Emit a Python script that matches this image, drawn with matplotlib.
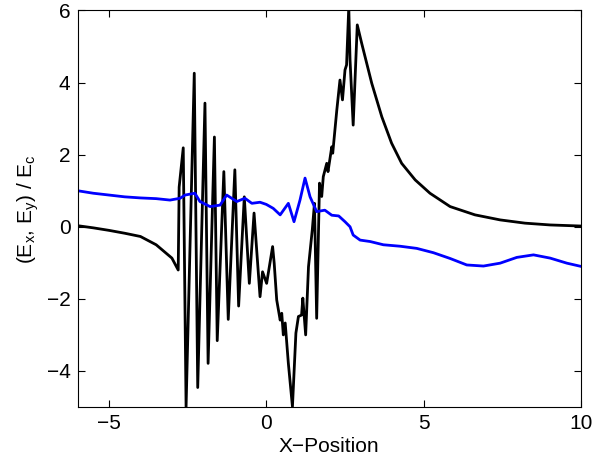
import matplotlib
matplotlib.use("Agg")
import matplotlib.pyplot as plt

plt.rcParams['font.family'] = ['Liberation Sans', 'DejaVu Sans']
plt.rcParams['mathtext.fontset'] = 'custom'
plt.rcParams['mathtext.rm'] = 'Liberation Sans'
plt.rcParams['mathtext.it'] = 'Liberation Sans'

# Ex (black)
ex_x = [-6.0, -5.5, -5.0, -4.5, -4.0, -3.5, -3.0, -2.8, -2.77, -2.64, -2.55, -2.29, -2.18,
        -1.95, -1.85, -1.65, -1.56, -1.35, -1.21, -1.0, -0.88, -0.70, -0.54, -0.39, -0.2,
        -0.12, 0.01, 0.2, 0.25, 0.33, 0.44, 0.49, 0.54, 0.6, 0.7, 0.83, 0.94, 1.02, 1.12,
        1.16, 1.25, 1.34, 1.46, 1.53, 1.6, 1.69, 1.76, 1.81, 1.92, 1.96, 2.08, 2.11, 2.24,
        2.34, 2.42, 2.5, 2.55, 2.62, 2.66, 2.76, 2.89, 3.03, 3.35, 3.67, 3.98, 4.3, 4.73,
        5.2, 5.84, 6.63, 7.43, 8.22, 9.02, 10.0]
ex_y = [0.03, -0.03, -0.1, -0.18, -0.27, -0.5, -0.87, -1.2, 1.1, 2.19, -5.0, 4.26, -4.46,
        3.43, -3.79, 2.49, -3.16, 1.53, -2.57, 1.58, -2.2, 0.83, -1.57, 0.38, -1.94,
        -1.25, -1.57, -0.55, -1.01, -2.03, -2.59, -2.4, -3.0, -2.67, -3.79, -4.99, -2.95, -2.49, -2.45,
        -1.98, -3.0, -1.11, -0.09, 0.65, -2.54, 1.21, 0.84, 1.39, 1.76, 1.53, 2.22, 2.04, 3.24,
        4.07, 3.52, 4.35, 4.49, 6.1, 4.63, 2.82, 5.6, 5.09, 3.98, 3.05, 2.32, 1.76, 1.3,
        0.93, 0.56, 0.33, 0.19, 0.1, 0.05, 0.02]

# Ey (blue)
ey_x = [-6.0, -5.5, -5.0, -4.5, -4.0, -3.5, -3.06, -2.74, -2.58, -2.27, -2.11, -1.79, -1.47,
        -1.26, -0.94, -0.68, -0.46, -0.2, 0.0, 0.22, 0.44, 0.7, 0.88, 1.07, 1.23, 1.39, 1.6,
        1.86, 2.08, 2.3, 2.5, 2.66, 2.76, 2.98, 3.3, 3.72, 4.25, 4.78, 5.31, 5.84, 6.37,
        6.9, 7.43, 7.96, 8.49, 9.02, 9.55, 10.0]
ey_y = [1.0, 0.93, 0.88, 0.83, 0.8, 0.78, 0.74, 0.79, 0.88, 0.93, 0.7, 0.56, 0.6,
        0.88, 0.7, 0.79, 0.65, 0.68, 0.62, 0.51, 0.33, 0.65, 0.14, 0.74, 1.35, 0.83, 0.42,
        0.46, 0.32, 0.3, 0.14, 0.0, -0.23, -0.37, -0.41, -0.5, -0.54, -0.6, -0.72, -0.88, -1.06,
        -1.09, -1.01, -0.85, -0.78, -0.87, -1.01, -1.1]

xticks = [-5, 0, 5, 10]
yticks = [-4, -2, 0, 2, 4, 6]

fig = plt.figure(figsize=(5.93, 4.58), dpi=100)
ax = fig.add_axes([0.1307, 0.1114, 0.8491, 0.8657])
ax.plot(ex_x, ex_y, color='black', lw=2.0)
ax.plot(ey_x, ey_y, color='#0000ff', lw=2.0)
ax.set_xlim(-6, 10)
ax.set_ylim(-5, 6)
ax.set_xticks(xticks)
ax.set_yticks(yticks)
ax.set_xticklabels(['\u22125', '0', '5', '10'])
ax.set_yticklabels(['\u22124', '\u22122', '0', '2', '4', '6'])
ax.tick_params(direction='in', top=True, right=True, labelsize=15, length=5, width=0.8, pad=5)
for s in ax.spines.values():
    s.set_linewidth(0.8)
ax.set_xlabel('X\u2212Position', fontsize=15, labelpad=3)
ax.set_ylabel(r'(E$_\mathrm{x}$, E$_\mathrm{y}$) / E$_\mathrm{c}$', fontsize=15)
ax.yaxis.set_label_coords(-0.072, 0.5)
fig.savefig('out.png', dpi=100)
